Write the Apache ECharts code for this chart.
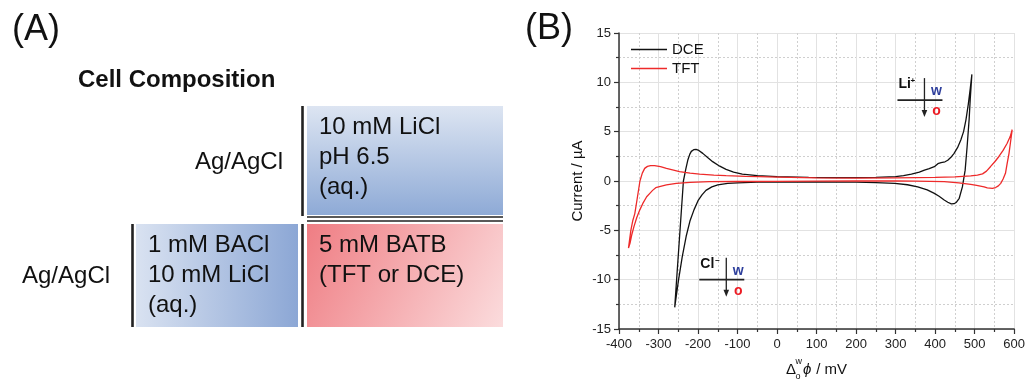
<!doctype html>
<html>
<head>
<meta charset="utf-8"/>
<title>Cell composition and CV</title>
<script src="https://cdn.jsdelivr.net/npm/echarts@6/dist/echarts.min.js"></script>
<style>
  body { margin: 0; background: #fff; }
  #main { width: 1028px; height: 379px; }
</style>
</head>
<body>
<div id="main"></div>
<script>
// ---- data (potential in mV, current in uA) ----
const dcePotential = [0, -50, -100, -125, -150, -165, -180, -190, -200, -210, -220, -230, -240, -250, -259,
  -237, -231, -226, -221, -217, -211, -205, -198, -188, -175, -163, -145, -129, -110, -88, -50, 0, 80, 150, 250,
  300, 320, 340, 360, 373, 385, 398, 407, 415, 425, 432, 440, 448, 457, 465, 472, 478, 484, 489, 493,
  489, 486, 481, 476, 469, 461, 454, 448, 441, 432, 423, 410, 398, 380, 356, 330, 298, 250, 200, 100, 0];
const dceCurrent = [-0.10, -0.12, -0.18, -0.25, -0.40, -0.60, -0.95, -1.4, -2.0, -2.9, -4.0, -5.6, -7.7, -10.2, -12.8,
  0.0, 1.2, 2.1, 2.7, 3.0, 3.17, 3.2, 3.1, 2.8, 2.35, 1.96, 1.5, 1.18, 0.9, 0.7, 0.55, 0.44, 0.37, 0.35, 0.37,
  0.45, 0.55, 0.7, 0.9, 1.1, 1.25, 1.45, 1.75, 1.86, 1.95, 2.1, 2.4, 2.8, 3.4, 4.15, 5.0, 6.2, 7.8, 9.4, 10.8,
  8.4, 6.2, 3.5, 1.1, -0.6, -1.75, -2.15, -2.3, -2.32, -2.15, -1.93, -1.55, -1.25, -0.9, -0.6, -0.38, -0.24, -0.16, -0.12, -0.10, -0.10];

const tftPotential = [0, -100, -171, -220, -255, -280, -295, -307, -315, -322, -330, -340, -347, -355, -362, -368, -372, -376,
  -370, -365, -360, -354, -347, -341, -335, -328, -320, -310, -295, -280, -262, -247, -220, -196, -160, -129, -80, -46,
  0, 100, 200, 300, 400, 450, 490, 507, 520, 530, 540, 551, 561, 572, 582, 590, 595,
  591, 587, 582, 578, 572, 566, 560, 553, 545, 540, 532, 524, 505, 490, 460, 423, 350, 300, 200, 100, 0];
const tftCurrent = [-0.03, -0.05, -0.07, -0.13, -0.24, -0.40, -0.55, -0.68, -0.95, -1.25, -1.6, -2.3, -2.9, -3.7, -4.6, -5.5, -6.3, -6.8,
  -5.0, -4.0, -3.3, -1.8, 0.0, 0.8, 1.28, 1.48, 1.56, 1.55, 1.45, 1.28, 1.1, 0.95, 0.8, 0.7, 0.6, 0.54, 0.47, 0.44,
  0.40, 0.32, 0.30, 0.32, 0.36, 0.42, 0.52, 0.6, 0.72, 1.0, 1.45, 1.95, 2.46, 3.1, 3.8, 4.5, 5.2,
  4.0, 2.8, 1.7, 0.78, 0.2, -0.24, -0.5, -0.66, -0.74, -0.75, -0.7, -0.6, -0.45, -0.34, -0.2, -0.07, -0.02, 0.0, 0.0, -0.02, -0.03];

const seriesNames = ['DCE', 'TFT'];
const seriesColors = ['#111111', '#ee2a2a'];

// ion transfer annotations (anchor in data coordinates)
const annoIon = ['Li', 'Cl'];
const annoCharge = ['+', '\u2212'];
const annoAnchor = [[373, 8.2], [-128.5, -10.0]];

// panel A text
const topLeftLabel = 'Ag/AgCl';
const topAqueous = ['10 mM LiCl', 'pH 6.5', '(aq.)'];
const bottomLeftLabel = 'Ag/AgCl';
const bottomAqueous = ['1 mM BACl', '10 mM LiCl', '(aq.)'];
const organicPhase = ['5 mM BATB', '(TFT or DCE)'];

const FONT = '"Liberation Sans", Arial, sans-serif';

function zip(xs, ys) { return xs.map((x, i) => [x, ys[i]]); }

const chart = echarts.init(document.getElementById('main'), null, { renderer: 'canvas' });

const axisCommon = {
  axisTick: { length: 5, lineStyle: { color: '#333', width: 1.2 } },
  minorTick: { show: true, splitNumber: 2, length: 3, lineStyle: { color: '#333', width: 1.2 } },
  splitLine: { show: true, lineStyle: { color: '#e2e2e2', width: 1 } },
  minorSplitLine: { show: true, lineStyle: { color: '#cfcfcf', width: 1, type: [2, 2] } }
};

chart.setOption({
  animation: false,
  textStyle: { fontFamily: FONT },
  grid: { left: 619, right: 11, top: 33, bottom: 50 },
  legend: {
    orient: 'vertical', left: 626, top: 37, icon: 'rect', itemWidth: 36, itemHeight: 1.6, itemGap: 4,
    textStyle: { fontSize: 15, color: '#111', lineHeight: 15, fontFamily: FONT },
    data: seriesNames
  },
  xAxis: Object.assign({
    type: 'value', min: -400, max: 600, interval: 100,
    axisLine: { onZero: false, lineStyle: { color: '#333', width: 1.5 } },
    axisLabel: { fontSize: 13, color: '#222', margin: 9, fontFamily: FONT }
  }, axisCommon),
  yAxis: Object.assign({
    type: 'value', min: -15, max: 15, interval: 5,
    name: 'Current / \u00b5A', nameLocation: 'middle', nameGap: 34,
    nameTextStyle: { fontSize: 15, color: '#111', fontFamily: FONT },
    axisLine: { onZero: false, lineStyle: { color: '#333', width: 1.5 } },
    axisLabel: { fontSize: 13, color: '#222', margin: 8, fontFamily: FONT }
  }, axisCommon),
  series: [
    { name: seriesNames[0], type: 'line', symbol: 'none', data: zip(dcePotential, dceCurrent),
      lineStyle: { color: seriesColors[0], width: 1.3 }, itemStyle: { color: seriesColors[0] } },
    { name: seriesNames[1], type: 'line', symbol: 'none', data: zip(tftPotential, tftCurrent),
      lineStyle: { color: seriesColors[1], width: 1.3 }, itemStyle: { color: seriesColors[1] } }
  ]
});

// ---- graphics: panel A, panel labels, axis title, annotations ----
const g = [];
function txt(x, y, text, size, opts) {
  opts = opts || {};
  g.push({
    type: 'text', x: x, y: y, silent: true,
    style: {
      text: text, fill: opts.fill || '#111',
      font: (opts.style || 'normal') + ' ' + (opts.weight || 'normal') + ' ' + size + 'px ' + FONT,
      textAlign: opts.align || 'left', textVerticalAlign: opts.valign || 'middle'
    }
  });
}
function line(x1, y1, x2, y2, w, color) {
  g.push({ type: 'line', silent: true, shape: { x1: x1, y1: y1, x2: x2, y2: y2 },
    style: { stroke: color || '#222', lineWidth: w } });
}
function box(x, y, w, h, grad) {
  g.push({ type: 'rect', silent: true, shape: { x: x, y: y, width: w, height: h },
    style: { fill: grad } });
}

// panel labels
txt(12, 30, '(A)', 36);
txt(525, 29, '(B)', 36);

// panel A
txt(78, 80, 'Cell Composition', 24, { weight: 'bold' });
box(307, 106, 196, 109, { type: 'linear', x: 0, y: 0, x2: 0, y2: 1,
  colorStops: [{ offset: 0, color: '#dde5f2' }, { offset: 1, color: '#8eaad6' }] });
box(136, 224, 162, 103, { type: 'linear', x: 0, y: 0, x2: 1, y2: 0,
  colorStops: [{ offset: 0, color: '#d9e2f1' }, { offset: 1, color: '#8ca7d5' }] });
box(307, 224, 196, 103, { type: 'linear', x: 0, y: 0, x2: 1, y2: 1,
  colorStops: [{ offset: 0, color: '#ef7d83' }, { offset: 1, color: '#fbdcdd' }] });
line(302.5, 106, 302.5, 216, 2.6);
line(302.5, 224, 302.5, 327, 2.6);
line(132.5, 224, 132.5, 327, 2.6);
line(307, 217, 503, 217, 1.6);
line(307, 221, 503, 221, 1.6);
txt(283, 162, topLeftLabel, 24, { align: 'right' });
txt(22, 276, bottomLeftLabel, 24);
topAqueous.forEach((s, i) => txt(319, 127 + 30 * i, s, 24));
bottomAqueous.forEach((s, i) => txt(148, 245 + 30 * i, s, 24));
organicPhase.forEach((s, i) => txt(319, 245 + 30 * i, s, 24));

// x axis title: Delta_o^w phi / mV
const xc = chart.convertToPixel({ gridIndex: 0 }, [100, 0])[0];
const xl = xc - 30.5;
txt(xl, 370, '\u0394', 15);
txt(xl + 9.5, 362, 'w', 9);
txt(xl + 9.5, 377, 'o', 9);
txt(xl + 17, 370, '\u03d5', 15, { style: 'italic' });
txt(xl + 26, 370, ' / mV', 15);

// ion transfer annotations
annoAnchor.forEach((a, i) => {
  const p = chart.convertToPixel({ gridIndex: 0 }, a);
  const cx = p[0], cy = p[1];
  line(cx - 27, cy, cx + 18, cy, 1.6, '#222');
  line(cx, cy - 22, cx, cy + 11, 1.3, '#222');
  g.push({ type: 'polygon', silent: true,
    shape: { points: [[cx - 2.8, cy + 10], [cx + 2.8, cy + 10], [cx, cy + 17]] },
    style: { fill: '#222' } });
  txt(cx - 26, cy - 9, annoIon[i], 14, { weight: 'bold', valign: 'bottom' });
  txt(cx - 26 + (i === 0 ? 12 : 15), cy - 19, annoCharge[i], 8, { weight: 'bold' });
  txt(cx + 12, cy - 8.5, 'w', 14, { weight: 'bold', fill: '#2e3f9c', align: 'center' });
  txt(cx + 12, cy + 11.5, 'o', 14, { weight: 'bold', fill: '#ec1c24', align: 'center' });
});

chart.setOption({ graphic: g });
</script>
</body>
</html>
